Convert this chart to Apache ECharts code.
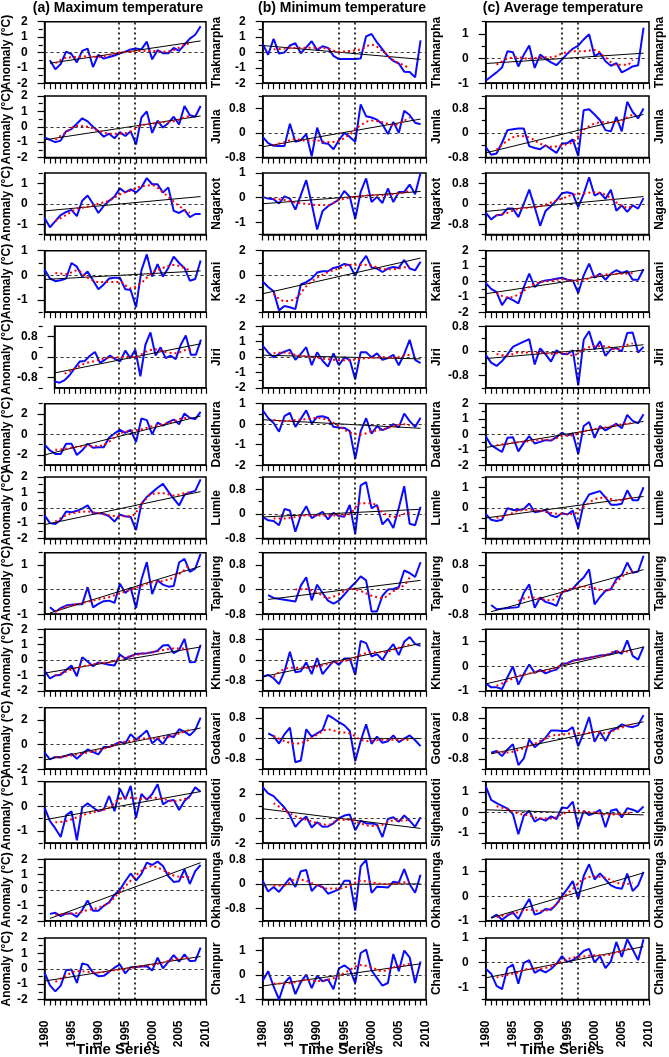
<!DOCTYPE html>
<html><head><meta charset="utf-8">
<script src="https://cdn.jsdelivr.net/npm/echarts@6/dist/echarts.min.js"></script>
<style>html,body{margin:0;padding:0;background:#fff}#c{width:669px;height:1057px}</style>
</head><body><div id="c"></div><script>
// ---------------- data ----------------
const years = [1980,1981,1982,1983,1984,1985,1986,1987,1988,1989,1990,1991,1992,1993,1994,1995,1996,1997,1998,1999,2000,2001,2002,2003,2004,2005,2006,2007,2008,2009];
const smoothYears = [1982,1984,1986,1988,1990,1992,1994,1996,1998,2000,2002,2004,2006,2007];
const xLabelYears = [1980,1985,1990,1995,2000,2005,2010];
const breakYears = [1994,1997];
const stations = ['Thakmarpha','Jumla','Nagarkot','Kakani','Jiri','Dadeldhura','Lumle','Taplejung','Khumaltar','Godavari','Silghadidoti','Okhaldhunga','Chainpur'];
const columnTitles = ['(a) Maximum temperature','(b) Minimum temperature','(c) Average temperature'];
const xTitle = 'Time Series';
const yTitle = 'Anomaly (\u00B0C)';

const T2 = [-2,-1,0,1,2];
const T1 = [-1,0,1];
const T08 = [-0.8,0,0.8];
const TE2 = [-2,0,2];

// (a) maximum temperature
const maxAnomaly = [
 [null,-0.5,-1.1,-0.75,0.05,-0.1,-0.65,0.1,0.25,-0.95,-0.15,-0.4,-0.3,-0.2,-0.05,0.05,0.2,0.25,0.2,0.7,-0.45,0.15,-0.05,-0.05,0.3,0.1,0.5,0.9,1.15,1.7],
 [-0.7,-0.85,-1.0,-0.9,-0.3,-0.15,0.2,0.55,0.35,0.0,-0.3,-0.65,-0.45,-0.75,-0.35,-0.6,-0.3,-1.15,0.6,1.0,-0.4,0.4,-0.05,0.25,0.65,0.15,1.35,0.75,0.65,1.35],
 [-0.7,-1.15,-0.85,-0.55,-0.4,-0.3,-0.6,0.15,0.4,0.0,-0.45,-0.1,0.15,0.35,0.75,0.55,0.7,0.55,0.8,1.25,0.95,0.95,0.55,0.8,-0.35,-0.45,-0.3,-0.65,-0.5,-0.5],
 [0.23,-0.13,-0.24,-0.2,-0.13,0.5,0.35,-0.05,0.15,-0.2,-0.57,-0.37,-0.13,-0.1,-0.1,-0.57,-0.6,-1.3,0.2,0.85,-0.05,0.45,-0.05,0.3,0.76,0.5,0.3,-0.22,-0.15,0.6],
 [-0.95,-1.0,-0.9,-0.7,-0.43,-0.17,-0.15,0.05,0.2,-0.23,-0.1,0.06,-0.08,-0.17,0.25,-0.04,0.28,-0.75,0.48,0.96,0.06,0.38,-0.04,0.05,-0.08,0.48,0.84,0.09,0.09,0.68],
 [-1.0,-1.55,-1.9,-1.9,-0.9,-0.9,-2.0,-1.55,-0.9,-1.3,-1.25,-1.25,-0.3,0.1,0.45,0.15,0.45,-0.75,1.55,1.4,0.0,1.15,0.85,1.2,1.45,1.0,2.05,1.6,1.5,2.2],
 [-0.5,-1.0,-1.05,-0.8,-0.25,-0.3,-0.2,-0.05,0.15,-0.35,-0.35,-0.4,-0.55,-0.9,-0.45,-0.55,-0.6,-1.45,0.25,0.7,1.0,1.3,1.55,1.05,0.6,0.15,0.85,1.0,1.1,1.85],
 [null,-0.72,-0.9,-0.75,-0.65,-0.62,-0.6,-0.6,0.1,-0.72,-0.58,-0.47,-0.45,-0.54,0.24,-0.14,0.07,-0.75,0.4,1.12,-0.18,0.38,0.2,0.12,0.15,1.1,1.25,0.72,0.85,1.45],
 [-0.7,-1.2,-1.0,-0.95,-0.65,-0.35,-1.05,0.18,-0.1,-0.4,-0.15,-0.22,-0.3,-0.35,0.35,0.1,0.25,0.4,0.42,0.45,0.5,0.6,0.95,0.98,0.45,0.65,1.38,-0.15,-0.12,1.0],
 [-0.65,-1.2,-1.0,-1.05,-0.9,-0.75,-1.15,-0.75,-0.4,-0.6,-0.8,-0.2,-0.2,0.0,0.22,0.1,0.85,0.4,0.75,1.15,0.1,0.5,0.05,0.75,0.6,1.25,1.05,0.75,1.2,2.2],
 [-0.05,-0.6,-0.9,-1.25,-0.37,-0.2,-1.38,-0.05,0.12,-0.05,-0.2,-0.12,0.42,-0.2,0.72,0.28,0.83,-0.47,0.5,0.26,0.5,0.9,0.08,0.22,0.26,-0.15,0.22,0.42,0.77,0.59],
 [null,-1.55,-1.48,-1.7,-1.52,-1.52,-1.75,-1.3,-0.68,-1.35,-1.35,-1.03,-0.8,-0.3,0.02,0.57,1.08,0.62,1.05,1.78,1.63,1.85,1.56,0.9,0.53,0.57,1.34,0.4,1.23,1.63],
 [-0.25,-1.08,-1.47,-1.1,-0.1,-0.05,-0.92,0.35,0.25,-0.25,-0.48,-0.46,-0.2,0.07,0.28,-0.3,0.1,0.12,0.14,0.17,-0.12,0.72,0.03,0.45,0.88,0.47,0.93,0.5,0.52,1.38]
];
const maxSmooth = [
 [-0.7,-0.35,-0.3,-0.25,-0.3,-0.15,0.0,0.05,0.1,0.1,0.05,0.15,0.5,0.6],
 [-0.85,-0.35,0.05,0.0,-0.25,-0.45,-0.45,-0.3,0.1,0.2,0.3,0.35,0.6,0.7],
 [-0.85,-0.55,-0.25,-0.15,0.0,0.15,0.45,0.65,0.85,0.9,0.55,0.1,-0.3,-0.45],
 [0.1,0.05,0.2,-0.1,-0.27,-0.27,-0.27,-0.53,-0.3,0.1,0.3,0.42,0.3,0.2],
 [-0.65,-0.45,-0.25,-0.15,-0.05,-0.02,0.0,0.0,0.2,0.3,0.2,0.15,0.28,0.3],
 [-1.5,-1.4,-1.2,-1.15,-1.15,-0.7,0.1,0.35,0.5,0.8,1.0,1.3,1.6,1.6],
 [-0.9,-0.5,-0.3,-0.25,-0.35,-0.5,-0.55,-0.55,0.2,0.9,0.95,0.8,0.95,1.0],
 [-0.9,-0.7,-0.6,-0.5,-0.4,-0.3,-0.15,0.0,0.15,0.3,0.35,0.5,0.8,1.05],
 [-1.0,-0.75,-0.5,-0.35,-0.2,-0.15,0.1,0.25,0.4,0.5,0.65,0.75,0.75,0.55],
 [-1.05,-0.95,-0.8,-0.65,-0.45,-0.2,0.15,0.3,0.5,0.5,0.55,0.75,1.05,1.2],
 [-0.65,-0.6,-0.45,-0.3,-0.2,-0.05,0.3,0.35,0.3,0.35,0.3,0.2,0.3,0.35],
 [-1.6,-1.55,-1.5,-1.3,-1.15,-0.8,-0.1,0.6,1.25,1.55,1.3,0.95,0.85,0.85],
 [-0.85,-0.45,-0.15,-0.2,-0.25,-0.15,-0.05,0.05,0.15,0.25,0.4,0.6,0.7,0.7]
];
const maxTrend = [[1981,-0.7,0.75],[1980,-0.85,0.7],[1980,-0.35,0.35],[1980,-0.17,0.18],[1980,-0.62,0.52],[1980,-2.0,1.8],[1980,-1.1,1.05],[1981,-0.95,0.95],[1980,-0.85,0.85],[1980,-1.25,1.35],[1980,-0.55,0.6],[1981,-1.85,1.78],[1980,-0.8,0.8]];
const maxYRange = [[-2,2],[-2,2],[-1.5,1.5],[-1.5,1],[-1.2,1.2],[-3,3],[-2,2],[-1,1.5],[-2,2],[-2,3],[-1.5,1],[-2,2],[-2,2]];
const maxYTicks = [T2,T2,T1,T1,T08,TE2,T2,T1,T2,TE2,T1,T2,T2];

// (b) minimum temperature
const minAnomaly = [
 [0.55,-0.15,0.88,-0.07,0.0,0.45,0.6,-0.05,0.33,0.73,0.15,0.4,0.3,-0.22,-0.43,-0.43,-0.43,-0.43,-0.4,1.05,1.2,0.65,0.2,-0.25,-0.55,-0.72,-1.25,-1.27,-1.62,0.78],
 [-0.13,-0.33,-0.42,-0.43,-0.43,0.3,-0.29,-0.24,-0.04,-0.76,0.17,-0.33,-0.35,-0.53,-0.24,0.0,-0.13,-0.29,0.93,0.54,0.5,0.43,0.28,-0.04,0.36,0.0,0.72,0.58,0.33,0.28],
 [0.03,-0.04,-0.07,-0.24,0.05,-0.04,-0.49,0.1,0.71,-0.25,-1.3,-0.54,-0.35,-0.22,-0.08,0.27,0.03,-0.86,0.23,0.78,-0.18,0.03,-0.22,0.37,-0.18,0.23,0.23,0.53,0.14,1.0],
 [-0.5,-0.95,-1.3,-2.85,-2.5,-2.6,-2.75,-0.75,-0.55,-0.27,0.22,0.33,0.33,0.6,0.7,0.93,0.82,-0.05,0.98,1.58,0.63,0.55,0.27,0.55,0.68,0.6,1.25,0.55,0.4,1.1],
 [0.75,0.3,-0.02,0.2,0.35,0.48,-0.18,0.2,0.64,-0.53,0.31,-0.24,-0.62,0.24,-0.53,-0.02,-0.18,-1.45,0.31,0.31,-0.02,0.24,-0.18,-0.07,0.15,-0.53,0.2,1.12,-0.18,-0.4],
 [0.68,0.3,0.06,-0.37,0.39,0.55,-0.13,0.26,0.68,0.03,0.36,0.39,0.3,-0.13,-0.16,-0.18,-0.34,-1.69,-0.34,0.29,-0.46,-0.1,-0.29,-0.18,0.0,-0.16,0.52,0.15,-0.13,0.31],
 [-0.1,-0.21,-0.23,-0.37,0.16,0.11,-0.58,-0.05,0.25,-0.14,-0.03,0.07,-0.18,0.03,-0.07,-0.09,0.29,-0.65,0.93,1.03,0.18,0.29,-0.34,-0.16,-0.46,0.19,0.9,-0.32,-0.37,0.23],
 [null,-0.18,-0.27,null,null,null,-0.39,0.13,0.4,-0.35,0.16,-0.11,-0.36,-0.46,-0.36,-0.16,0.05,0.22,0.43,0.3,-0.71,-0.71,-0.2,0.0,0.02,0.08,0.62,0.54,0.41,0.89],
 [-0.65,-0.58,-0.71,-0.94,-0.44,0.32,-0.48,-0.44,-0.09,-0.55,0.08,-0.55,-0.29,-0.03,-0.19,0.06,0.06,-0.58,0.75,0.66,0.14,0.23,0.0,0.36,0.62,0.19,0.71,0.9,0.62,0.56],
 [null,0.2,0.09,-0.2,0.16,0.42,-0.93,-0.86,0.36,0.07,0.2,0.33,0.91,0.78,0.64,0.51,0.29,-0.89,-0.1,0.55,-0.21,0.07,-0.17,-0.11,0.12,-0.14,-0.01,0.12,-0.07,-0.3],
 [2.55,2.05,1.83,1.36,0.9,0.25,-0.67,-0.17,0.17,-0.72,-0.3,-0.67,-0.64,-0.39,0.03,0.25,0.33,-0.94,-0.17,-0.39,-0.39,-0.5,-1.5,-0.03,0.11,-0.25,0.25,-0.17,-0.67,0.11],
 [0.1,-0.25,-0.1,-0.26,-0.03,0.19,-0.1,0.41,0.45,-0.23,-0.04,-0.1,-0.32,-0.25,-0.18,0.1,0.1,-0.87,0.57,0.78,-0.29,-0.09,-0.1,-0.12,0.07,0.04,0.48,-0.01,-0.29,0.3],
 [-0.24,0.15,-0.47,-1.0,-0.33,-0.08,-0.78,-0.29,0.01,-0.54,-0.03,-0.26,-0.19,-0.58,0.26,0.39,0.22,-0.33,0.89,1.03,0.18,-0.13,-0.44,-0.33,0.85,0.15,0.99,0.71,-0.33,0.54]
];
const minSmooth = [
 [0.2,0.25,0.3,0.3,0.3,0.25,0.05,0.1,0.2,0.5,0.1,-0.5,-0.85,-1.0],
 [-0.4,-0.3,-0.2,-0.25,-0.25,-0.3,-0.25,-0.05,0.25,0.4,0.35,0.25,0.4,0.5],
 [-0.05,-0.1,-0.2,-0.25,-0.3,-0.3,-0.1,0.0,0.05,0.1,0.1,0.15,0.2,0.3],
 [-1.5,-2.1,-1.9,-0.9,-0.2,0.25,0.55,0.85,0.85,0.8,0.5,0.5,0.65,0.7],
 [0.25,0.3,0.15,0.05,-0.05,-0.15,-0.2,-0.2,-0.1,-0.05,0.0,-0.05,0.1,0.15],
 [0.2,0.15,0.2,0.25,0.3,0.2,-0.1,-0.4,-0.5,-0.35,-0.25,-0.1,0.0,-0.05],
 [-0.15,-0.15,-0.1,-0.05,-0.05,-0.05,-0.05,0.0,0.35,0.35,0.05,-0.1,0.0,0.05],
 [null,null,0.0,0.02,-0.1,-0.27,-0.15,0.02,-0.05,-0.2,-0.27,-0.05,0.15,0.4],
 [-0.65,-0.35,-0.3,-0.3,-0.25,-0.15,-0.05,0.0,0.2,0.3,0.3,0.4,0.55,0.6],
 [0.1,-0.1,-0.2,-0.1,0.15,0.35,0.25,0.2,-0.05,-0.1,-0.05,-0.05,-0.05,-0.05],
 [1.25,0.7,0.2,-0.1,-0.35,-0.5,-0.1,-0.1,-0.4,-0.6,-0.5,-0.15,-0.15,-0.1],
 [-0.05,-0.05,0.15,0.1,-0.05,-0.15,-0.15,-0.05,0.1,0.05,0.0,0.0,0.05,0.05],
 [-0.35,-0.35,-0.3,-0.2,-0.25,-0.2,-0.05,0.2,0.4,0.3,0.15,0.3,0.4,0.45]
];
const minTrend = [[1980,0.45,-0.45],[1980,-0.45,0.45],[1980,-0.25,0.25],[1980,-1.5,1.4],[1980,0.12,-0.12],[1980,0.22,-0.2],[1980,-0.1,0.15],[1981,-0.32,0.3],[1980,-0.65,0.65],[1981,0.0,0.0],[1980,0.8,-0.8],[1980,-0.03,0.0],[1980,-0.45,0.45]];
const minYRange = [[-2,2],[-0.8,1.2],[-1.5,1],[-3,2],[-2,2],[-2,1],[-0.8,1.2],[-0.8,1.2],[-1.2,1.2],[-1.2,1.2],[-2,3],[-1.2,0.8],[-1,1.5]];
const minYTicks = [T2,T08,T1,TE2,T2,[-2,-1,0,1],T08,T08,T08,T08,TE2,T08,T1];

// (c) average temperature
const avgAnomaly = [
 [-0.9,-0.73,-0.56,-0.36,0.3,0.26,-0.32,0.16,0.53,-0.38,0.16,-0.01,-0.15,-0.27,-0.04,0.2,0.4,0.53,0.78,0.99,0.1,0.23,-0.11,-0.29,-0.18,-0.56,-0.45,-0.32,-0.27,1.26],
 [-0.46,-0.71,-0.67,-0.32,0.09,0.12,0.14,0.14,-0.43,-0.49,-0.53,-0.4,-0.53,-0.65,-0.35,-0.33,-0.21,-0.75,0.74,0.77,0.6,0.41,0.09,0.05,0.52,0.05,1.01,0.68,0.47,0.79],
 [-0.35,-0.61,-0.45,-0.43,-0.19,-0.19,-0.52,0.0,0.55,-0.13,-0.86,-0.28,-0.09,0.13,0.41,0.45,0.39,-0.13,0.39,1.03,0.32,0.43,0.19,0.55,-0.27,-0.06,-0.32,-0.06,-0.19,0.22],
 [-0.1,-0.48,-0.7,-1.54,-1.03,-1.21,-1.43,-0.37,0.51,-0.37,-0.04,0.07,0.11,0.18,0.24,0.11,0.07,-0.75,0.4,1.16,0.24,0.51,0.11,0.51,0.73,0.55,0.68,0.11,0.11,0.79],
 [-0.13,-0.38,-0.49,-0.33,-0.11,0.13,0.22,0.3,0.38,-0.44,0.08,-0.11,-0.35,0.02,-0.09,-0.11,0.02,-1.12,0.36,0.64,0.05,0.31,-0.16,0.05,0.09,-0.02,0.58,0.6,-0.05,0.13],
 [-0.11,-0.7,-0.92,-1.14,-0.22,-0.18,-1.1,-0.55,-0.11,-0.59,-0.48,-0.37,-0.4,-0.18,0.11,-0.07,0.07,-1.27,0.55,0.81,-0.22,0.55,0.26,0.48,0.7,0.4,1.27,0.88,0.73,1.32],
 [-0.3,-0.59,-0.65,-0.59,-0.02,-0.11,-0.11,-0.06,0.21,-0.22,-0.17,-0.11,-0.38,-0.46,-0.27,-0.33,-0.14,-1.0,0.21,0.65,0.73,0.81,0.5,0.15,0.15,0.2,0.85,0.37,0.37,1.0],
 [null,-0.5,-0.64,null,null,null,-0.57,-0.1,0.17,-0.59,-0.26,-0.4,-0.45,-0.53,-0.08,-0.04,0.03,0.23,0.39,0.66,-0.48,-0.24,-0.04,0.01,0.34,0.48,0.88,0.55,0.59,1.1],
 [-0.69,-0.86,-0.86,-0.93,-0.45,-0.01,-0.75,-0.31,0.07,-0.27,-0.15,-0.29,-0.2,-0.14,0.1,0.12,0.23,0.26,0.3,0.34,0.39,0.44,0.46,0.5,0.62,0.5,1.05,0.42,0.27,0.8],
 [null,-0.56,-0.49,-0.69,-0.43,-0.23,-1.04,-0.78,-0.04,-0.34,-0.17,0.03,0.31,0.31,0.29,0.29,0.44,-0.3,0.22,0.83,-0.13,0.26,-0.1,0.29,0.39,0.55,0.48,0.44,0.52,0.91],
 [1.28,0.61,0.45,0.32,0.19,-0.08,-1.06,-0.16,0.08,-0.45,-0.29,-0.4,-0.19,-0.32,0.24,0.21,0.53,-0.72,0.08,-0.13,-0.03,0.13,-0.72,0.08,0.16,-0.24,0.21,0.13,0.03,0.29],
 [null,-0.89,-0.75,-0.96,-0.79,-0.66,-0.93,-0.48,-0.11,-0.75,-0.68,-0.52,-0.55,-0.32,0.0,0.3,0.62,-0.11,0.82,1.3,0.68,0.93,0.68,0.44,0.34,0.3,0.92,0.21,0.44,0.99],
 [-0.25,-0.45,-0.95,-1.08,-0.22,-0.08,-0.86,-0.01,0.1,-0.42,-0.29,-0.4,-0.26,-0.05,0.26,0.03,0.1,0.26,0.47,0.56,0.01,0.26,-0.22,0.05,0.84,0.23,0.95,0.53,0.1,0.95]
];
const avgSmooth = [
 [-0.25,0.0,0.05,0.0,0.05,0.05,0.2,0.3,0.3,0.35,0.05,-0.25,-0.25,-0.05],
 [-0.55,-0.25,-0.1,-0.15,-0.35,-0.45,-0.4,-0.3,0.1,0.3,0.35,0.35,0.5,0.6],
 [-0.45,-0.35,-0.2,-0.15,-0.1,0.05,0.2,0.35,0.4,0.45,0.35,0.05,-0.15,-0.1],
 [-0.75,-1.05,-0.85,-0.35,-0.05,0.05,0.15,0.05,0.1,0.35,0.45,0.5,0.5,0.55],
 [-0.1,-0.15,-0.05,-0.05,-0.05,-0.1,-0.05,-0.15,0.05,0.15,0.15,0.05,0.2,0.25],
 [-0.7,-0.6,-0.5,-0.45,-0.35,-0.35,-0.1,-0.05,0.2,0.35,0.45,0.6,0.7,0.75],
 [-0.5,-0.35,-0.15,-0.1,-0.15,-0.25,-0.3,-0.3,0.05,0.4,0.5,0.35,0.45,0.5],
 [null,null,-0.37,-0.25,-0.3,-0.35,-0.1,0.05,0.1,0.05,-0.05,0.25,0.55,0.6],
 [-0.8,-0.6,-0.4,-0.3,-0.2,-0.15,0.05,0.2,0.3,0.38,0.45,0.6,0.6,0.55],
 [-0.5,-0.55,-0.45,-0.3,-0.1,0.1,0.15,0.2,0.2,0.25,0.2,0.35,0.5,0.55],
 [0.3,0.15,-0.05,-0.15,-0.3,-0.3,-0.1,0.1,0.05,0.0,-0.1,-0.1,-0.05,0.0],
 [-0.85,-0.75,-0.65,-0.55,-0.6,-0.5,-0.1,0.3,0.7,0.8,0.75,0.55,0.5,0.55],
 [-0.6,-0.5,-0.4,-0.25,-0.25,-0.15,0.05,0.2,0.25,0.3,0.3,0.4,0.55,0.55]
];
const avgTrend = [[1980,-0.2,0.22],[1980,-0.65,0.6],[1980,-0.3,0.28],[1980,-0.8,0.75],[1980,-0.25,0.2],[1980,-0.85,0.85],[1980,-0.5,0.55],[1981,-0.72,0.65],[1980,-0.72,0.78],[1981,-0.6,0.65],[1980,0.13,-0.12],[1981,-0.88,0.95],[1980,-0.62,0.65]];
const avgYRange = [[-1,1.5],[-0.8,1.2],[-1.2,1.2],[-2,2],[-1.2,0.8],[-2,2],[-1.5,1.5],[-0.8,1.2],[-1,1.5],[-1.2,1.2],[-1.5,1.5],[-1,1.5],[-1.5,1]];
const avgYTicks = [T1,T08,T08,T2,T08,T2,T1,T08,T1,T08,T1,T1,T1];

// ---------------- layout ----------------
const FONT = '"Liberation Sans", Arial, sans-serif';
const colLeft = [42.7, 262.7, 485.7];
const plotW = 163.3, plotH = 61.5;
const rowTop = [21.7, 96, 173, 250.7, 326.3, 403.7, 477, 552.7, 629.3, 707.7, 781.7, 859.3, 938];
const titleCenters = [118, 342, 563];
const xTitleCenters = [118, 341, 562];

const columns = [
  {anom: maxAnomaly, smooth: maxSmooth, trend: maxTrend, range: maxYRange, ticks: maxYTicks},
  {anom: minAnomaly, smooth: minSmooth, trend: minTrend, range: minYRange, ticks: minYTicks},
  {anom: avgAnomaly, smooth: avgSmooth, trend: avgTrend, range: avgYRange, ticks: avgYTicks}
];

function minorTicks(lo, hi, major) {
  const out = [];
  for (let i = 0; i < major.length - 1; i++) out.push(+((major[i] + major[i + 1]) / 2).toFixed(3));
  [lo, hi].forEach(v => { if (!major.includes(v)) out.push(v); });
  return out;
}
const plainNum = v => String(+(+v).toFixed(2));

const grid = [], xAxis = [], yAxis = [], series = [];
const black = '#000';
const labelStyle = {color: black, fontFamily: FONT, fontWeight: 'bold', fontSize: 12, formatter: plainNum};

columns.forEach((col, c) => {
  stations.forEach((st, r) => {
    const bottom = r === stations.length - 1;
    const [ymin, ymax] = col.range[r];
    const major = col.ticks[r];
    const minor = minorTicks(ymin, ymax, major);
    // main grid
    const gi = grid.length;
    grid.push({left: colLeft[c], top: rowTop[r], width: plotW, height: plotH, show: true, borderColor: black, borderWidth: 1.5, backgroundColor: 'rgba(0,0,0,0)'});
    const xi = xAxis.length;
    xAxis.push({type: 'value', gridIndex: gi, min: 1980, max: 2010, interval: 1,
      axisLine: {show: true, onZero: false, lineStyle: {color: black, width: 1.5}},
      axisTick: {show: true, length: 6, lineStyle: {color: black, width: 1.2}},
      splitLine: {show: false},
      axisLabel: bottom ? Object.assign({show: true, customValues: xLabelYears, rotate: 90, margin: 21}, labelStyle) : {show: false}
    });
    const yi = yAxis.length;
    yAxis.push({type: 'value', gridIndex: gi, min: ymin, max: ymax, position: 'left',
      axisLine: {show: true, onZero: false, lineStyle: {color: black, width: 1.5}},
      axisTick: {show: true, customValues: major, length: 7, lineStyle: {color: black, width: 1.2}},
      axisLabel: Object.assign({show: true, customValues: major, margin: 17}, labelStyle),
      splitLine: {show: false},
      name: c === 0 ? yTitle : '', nameLocation: 'middle', nameGap: 28, nameRotate: 90,
      nameTextStyle: {color: black, fontFamily: FONT, fontWeight: 'bold', fontSize: 12}
    });
    yAxis.push({type: 'value', gridIndex: gi, min: ymin, max: ymax, position: 'right',
      axisLine: {show: false}, axisTick: {show: false}, axisLabel: {show: false}, splitLine: {show: false},
      name: st, nameLocation: 'middle', nameGap: 5, nameRotate: 90,
      nameTextStyle: {color: black, fontFamily: FONT, fontWeight: 'bold', fontSize: 12}
    });
    // minor tick grid (same rectangle)
    const gm = grid.length;
    grid.push({left: colLeft[c], top: rowTop[r], width: plotW, height: plotH, show: false});
    xAxis.push({type: 'value', gridIndex: gm, min: 1980, max: 2010, show: false});
    yAxis.push({type: 'value', gridIndex: gm, min: ymin, max: ymax, position: 'left',
      axisLine: {show: false}, axisLabel: {show: false}, splitLine: {show: false},
      axisTick: {show: true, customValues: minor, length: 4, lineStyle: {color: black, width: 1.2}}
    });

    const anom = col.anom[r];
    series.push({type: 'line', xAxisIndex: xi, yAxisIndex: yi, silent: true, symbol: 'none', connectNulls: true, z: 3,
      data: years.map((y, i) => [y, anom[i]]),
      lineStyle: {color: '#0a0aff', width: 2},
      markLine: {silent: true, symbol: ['none', 'none'], label: {show: false}, animation: false,
        lineStyle: {type: [3, 3], color: '#333', width: 1}, data: [{yAxis: 0}]}
    });
    const tr = col.trend[r];
    series.push({type: 'line', xAxisIndex: xi, yAxisIndex: yi, silent: true, symbol: 'none', z: 4,
      data: [[tr[0], tr[1]], [years[years.length - 1], tr[2]]],
      lineStyle: {color: black, width: 1}
    });
    const sm = col.smooth[r];
    series.push({type: 'line', xAxisIndex: xi, yAxisIndex: yi, silent: true, symbol: 'none', smooth: 0.35, z: 5,
      data: smoothYears.map((y, i) => [y, sm[i]]),
      lineStyle: {color: '#ff0000', width: 2, type: [2, 3]}
    });
  });
  // full-column overlay grid for the vertical dotted lines
  const go = grid.length;
  grid.push({left: colLeft[c], top: rowTop[0], width: plotW, height: rowTop[rowTop.length - 1] + plotH - rowTop[0], show: false});
  const xo = xAxis.length;
  xAxis.push({type: 'value', gridIndex: go, min: 1980, max: 2010, show: false});
  const yo = yAxis.length;
  yAxis.push({type: 'value', gridIndex: go, min: 0, max: 1, show: false});
  series.push({type: 'line', xAxisIndex: xo, yAxisIndex: yo, silent: true, symbol: 'none', data: [], z: 6,
    markLine: {silent: true, symbol: ['none', 'none'], label: {show: false}, animation: false,
      lineStyle: {type: [2, 3], color: black, width: 1.6}, data: breakYears.map(y => ({xAxis: y}))}
  });
});

const graphic = [];
columnTitles.forEach((t, c) => {
  graphic.push({type: 'text', x: titleCenters[c], y: 1, silent: true,
    style: {text: t, fill: black, font: 'bold 14px ' + FONT, textAlign: 'center', textVerticalAlign: 'top'}});
  graphic.push({type: 'text', x: xTitleCenters[c], y: 1042, silent: true,
    style: {text: xTitle, fill: black, font: 'bold 15px ' + FONT, textAlign: 'center', textVerticalAlign: 'top'}});
});

const chart = echarts.init(document.getElementById('c'), null, {renderer: 'canvas'});
chart.setOption({animation: false, backgroundColor: '#fff', grid, xAxis, yAxis, series, graphic});
</script></body></html>
